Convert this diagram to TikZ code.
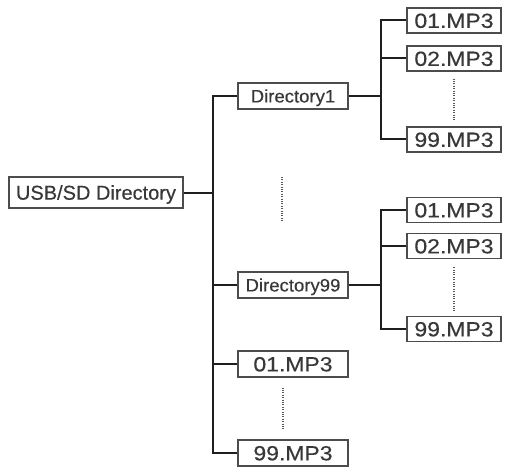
\documentclass[tikz,border=0pt]{standalone}
\usepackage{fontspec}
\setmainfont{Liberation Sans}
\newfontfamily\usbfont[FakeBold=0.35]{Liberation Sans}
\newfontfamily\mpfont[FakeStretch=1.12,FakeBold=0.35]{Liberation Sans}
\newfontfamily\dirfont[FakeStretch=1.03,FakeBold=0.35]{Liberation Sans}
\begin{document}
\begin{tikzpicture}[x=1pt,y=-1pt,
  box/.style={draw=black!70,line width=1.3pt,fill=white,inner sep=0pt,text=black!78,text depth=0pt},
  usbbox/.style={box,minimum width=174pt,minimum height=31pt,font=\usbfont\fontsize{20}{20}\selectfont,text height=14.3pt},
  dirbox/.style={box,minimum width=110pt,minimum height=26pt,font=\dirfont\fontsize{18}{18}\selectfont,text height=12.9pt},
  mpbox/.style={box,minimum width=94pt,minimum height=25pt,font=\mpfont\fontsize{20.5}{20}\selectfont,text height=14.7pt},
  rbox/.style={box,minimum width=110pt,minimum height=26pt,font=\mpfont\fontsize{20.5}{20}\selectfont,text height=14.7pt},
  conn/.style={draw=black!88,line width=2pt,line join=miter},
  dots/.style={draw=black!65,line width=1.2pt,dash pattern=on 1pt off 1.4pt}]
\useasboundingbox (0,0) rectangle (506,468);
\fill[white] (0,0) rectangle (506,468);
\coordinate (trunk) at (213,0);
\coordinate (sub) at (381,0);
% nodes
\node[usbbox] (usb) at (96,192.5) {USB/SD Directory};
\node[dirbox] (dir1) at (293,96) {Directory1};
\node[dirbox] (dir99) at (293,285) {Directory99};
\node[rbox] (r01) at (293,364) {01.MP3\hspace{16pt}};
\node[rbox] (r99) at (293,453) {99.MP3\hspace{16pt}};
\node[mpbox] (a01) at (454,20.5) {01.MP3};
\node[mpbox] (a02) at (454,58.5) {02.MP3};
\node[mpbox] (a99) at (454,139.5) {99.MP3};
\node[mpbox] (b01) at (454,210) {01.MP3};
\node[mpbox] (b02) at (454,246) {02.MP3};
\node[mpbox] (b99) at (454,329) {99.MP3};
% main trunk
\draw[conn] (dir1.west) -- (dir1.west -| trunk) -- (r99.west -| trunk) -- (r99.west);
\draw[conn] (usb.east) -- (usb.east -| trunk);
\draw[conn] (dir99.west) -- (dir99.west -| trunk);
\draw[conn] (r01.west) -- (r01.west -| trunk);
% sub trunk 1
\draw[conn] (dir1.east) -- (dir1.east -| sub);
\draw[conn] (a01.west) -- (a01.west -| sub) -- (a99.west -| sub) -- (a99.west);
\draw[conn] (a02.west) -- (a02.west -| sub);
% sub trunk 2
\draw[conn] (dir99.east) -- (dir99.east -| sub);
\draw[conn] (b01.west) -- (b01.west -| sub) -- (b99.west -| sub) -- (b99.west);
\draw[conn] (b02.west) -- (b02.west -| sub);
% dotted
\draw[dots] ([yshift=-7pt]a02.south) -- ([yshift=5pt]a99.north);
\draw[dots] ([yshift=-8pt]b02.south) -- ([yshift=5pt]b99.north);
\coordinate (m1) at (282,177);
\coordinate (m2) at (282,221);
\draw[dots] (m1) -- (m2);
\draw[dots] ([xshift=-10pt,yshift=-10pt]r01.south) -- ([xshift=-10pt,yshift=10pt]r99.north);
\end{tikzpicture}
\end{document}
